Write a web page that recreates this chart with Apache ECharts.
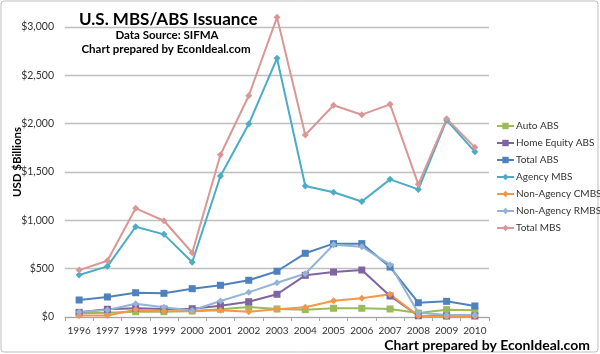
<!DOCTYPE html>
<html><head><meta charset="utf-8">
<script src="https://cdn.jsdelivr.net/npm/echarts@6/dist/echarts.min.js"></script>
<style>html,body{margin:0;padding:0;background:#fff}#c{width:600px;height:354px}</style>
</head><body><div id="c"></div>
<script>
const years = ['1996','1997','1998','1999','2000','2001','2002','2003','2004','2005','2006','2007','2008','2009','2010'];
const yTicks = [0, 500, 1000, 1500, 2000, 2500, 3000];
const autoABS      = [38, 45, 55, 55, 62, 80, 103, 83, 76, 90, 90, 83, 41, 76, 69];
const homeEquityABS= [48, 80, 90, 83, 86, 117, 158, 235, 431, 465, 486, 217, 13, 10, 10];
const totalABS     = [176, 207, 251, 245, 293, 328, 380, 473, 659, 759, 759, 517, 148, 162, 114];
const agencyMBS    = [434, 524, 934, 855, 566, 1458, 1996, 2676, 1355, 1290, 1195, 1424, 1320, 2037, 1710];
const nonAgencyCMBS= [15, 15, 74, 62, 59, 69, 55, 80, 100, 169, 193, 235, 12, 3, 8];
const nonAgencyRMBS= [52, 72, 138, 100, 68, 166, 255, 355, 448, 748, 727, 541, 45, 20, 20];
const totalMBS     = [485, 582, 1124, 996, 665, 1679, 2289, 3100, 1883, 2190, 2093, 2200, 1372, 2051, 1755];

const seriesDefs = [
  ['Auto ABS', autoABS, '#9bbb59', 'rect'],
  ['Home Equity ABS', homeEquityABS, '#8064a2', 'rect'],
  ['Total ABS', totalABS, '#4f81bd', 'rect'],
  ['Agency MBS', agencyMBS, '#4bacc6', 'diamond'],
  ['Non-Agency CMBS', nonAgencyCMBS, '#f79646', 'diamond'],
  ['Non-Agency RMBS', nonAgencyRMBS, '#95b3d7', 'diamond'],
  ['Total MBS', totalMBS, '#d99795', 'diamond']
];

const FONT = 'Lato';
const chart = echarts.init(document.getElementById('c'), null, {renderer:'canvas'});
chart.setOption({
  animation: false,
  backgroundColor: '#fff',
  textStyle: {fontFamily: FONT},
  grid: {left: 65, right: 111, top: 27, bottom: 37, containLabel: false},
  legend: {
    orient: 'vertical', left: 496, top: 121, padding: 0,
    itemWidth: 17, itemHeight: 8, itemGap: 7,
    textStyle: {fontFamily: FONT, fontSize: 10, color: '#333', padding: [0,0,0,-3]},
    data: seriesDefs.map(s => s[0])
  },
  xAxis: {
    type: 'category', data: years, boundaryGap: true,
    axisLine: {lineStyle: {color: '#a6a6a6', width: 1}},
    axisTick: {show: true, length: 4, lineStyle: {color: '#a6a6a6'}},
    axisLabel: {interval: 0, fontFamily: FONT, fontSize: 10, color: '#333', margin: 9}
  },
  yAxis: {
    type: 'value', min: yTicks[0], max: yTicks[yTicks.length-1], interval: 500,
    axisLine: {show: false}, axisTick: {show: false},
    splitLine: {lineStyle: {color: '#bfbfbf', width: 1.3}},
    axisLabel: {fontFamily: FONT, fontSize: 10.5, color: '#333', margin: 11,
      formatter: v => '$' + v.toLocaleString('en-US')}
  },
  series: seriesDefs.map(([name, data, color, sym]) => ({
    name, type: 'line', data, clip: false,
    symbol: sym, symbolSize: 7,
    lineStyle: {color, width: 2}, itemStyle: {color},
    emphasis: {disabled: true}
  })),
  graphic: [
    {type: 'rect', shape: {x: 1, y: 1, width: 597, height: 351, r: 3}, style: {fill: 'none', stroke: '#bfbfbf', lineWidth: 1}, z: -1},
    {type: 'text', x: 79, y: 20, style: {text: 'U.S. MBS/ABS Issuance', font: 'bold 17px Lato', fill: '#000', verticalAlign: 'middle'}},
    {type: 'text', x: 167, y: 35, style: {text: 'Data Source: SIFMA', font: 'bold 11.5px Lato', fill: '#000', align: 'center', verticalAlign: 'middle'}},
    {type: 'text', x: 166, y: 49, style: {text: 'Chart prepared by EconIdeal.com', font: 'bold 11.5px Lato', fill: '#000', align: 'center', verticalAlign: 'middle'}},
    {type: 'text', x: 590, y: 345, style: {text: 'Chart prepared by EconIdeal.com', font: 'bold 14px Lato', fill: '#000', align: 'right', verticalAlign: 'middle'}},
    {type: 'text', x: 17, y: 162, rotation: Math.PI/2, style: {text: 'USD $Billions', font: 'bold 11.5px Lato', fill: '#000', align: 'center', verticalAlign: 'middle'}}
  ]
});
</script></body></html>
